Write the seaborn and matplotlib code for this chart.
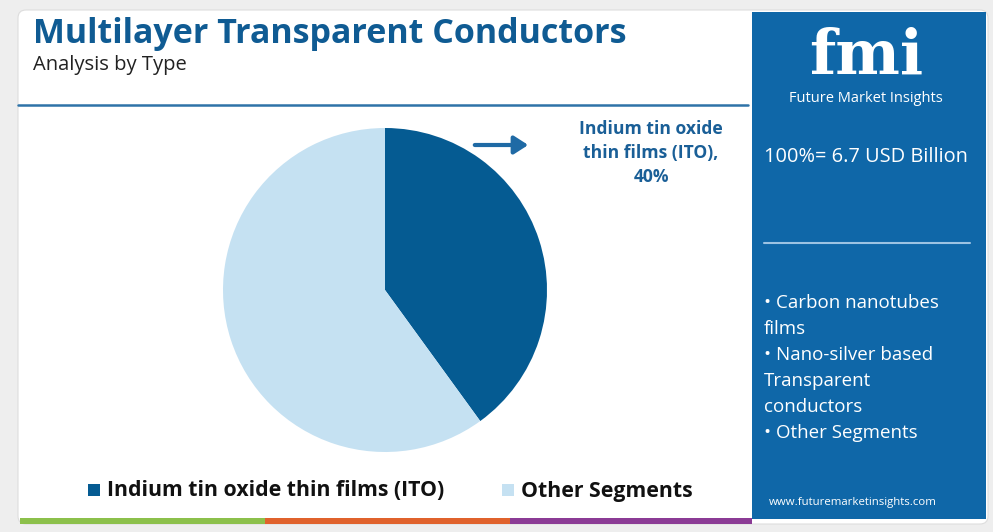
import matplotlib
matplotlib.use('Agg')
import matplotlib.pyplot as plt
from matplotlib.patches import FancyBboxPatch, Rectangle
import seaborn as sns

TITLE = 'Multilayer Transparent Conductors'
SUBTITLE = 'Analysis by Type'
segments = ['Indium tin oxide thin films (ITO)', 'Other Segments']
shares = [40, 60]
market_size = '100%= 6.7 USD Billion'
other_types = ['Carbon nanotubes\nfilms', 'Nano-silver based\nTransparent\nconductors', 'Other Segments']

DARK = '#055b92'
LIGHT = '#c5e1f2'
PANEL = '#0f67a8'
TITLE_COLOR = '#0f5b93'
W, H = 993, 532

sns.set_theme(style='white')
plt.rcParams['font.family'] = ['Open Sans', 'DejaVu Sans']

fig = plt.figure(figsize=(W / 100, H / 100), dpi=100)
fig.patch.set_facecolor('#eeeeee')

# background canvas in pixel coordinates
bg = fig.add_axes([0, 0, 1, 1])
bg.set_xlim(0, W)
bg.set_ylim(H, 0)
bg.axis('off')

bg.add_patch(FancyBboxPatch((18, 10), 970, 514, boxstyle='round,pad=0,rounding_size=8',
                            fc='white', ec='#dddddd', lw=0.8))
bg.add_patch(Rectangle((752, 12), 234, 507, fc=PANEL, ec='none'))
for x0, x1, c in [(20, 265, '#8cc04b'), (265, 510, '#e0622c'), (510, 752, '#8b3b95')]:
    bg.add_patch(Rectangle((x0, 518), x1 - x0, 6, fc=c, ec='none'))

bg.plot([18, 748], [105, 105], color='#2e73a8', lw=1.8)

bg.text(33, 34, TITLE, fontsize=24.5, fontweight='bold', color=TITLE_COLOR, va='center', ha='left')
bg.text(33, 65, SUBTITLE, fontsize=14.5, color='#222222', va='center', ha='left')

# annotation for the highlighted slice
bg.annotate('', xy=(531, 145), xytext=(472, 145),
            arrowprops=dict(arrowstyle='-|>,head_length=0.7,head_width=0.45', color='#1f6aa5', lw=3))
bg.text(651, 153, f'{segments[0].replace(" thin", chr(10) + "thin")},\n{shares[0]}%',
        fontsize=12.6, fontweight='bold', color='#1a5f97', ha='center', va='center', linespacing=1.4)

# legend
for (x, c, label) in [(88, DARK, segments[0]), (502, LIGHT, segments[1])]:
    bg.add_patch(Rectangle((x, 484), 12, 12, fc=c, ec='none'))
    bg.text(x + 19, 491, label, fontsize=15.3, fontweight='bold', color='#111111', va='center', ha='left')

# right panel
bg.text(866, 74, 'fmi', fontsize=44, fontweight='bold', family='DejaVu Serif', color='white',
        ha='center', va='baseline')
bg.text(866, 99, 'Future Market Insights', fontsize=10.5, color='white', ha='center', va='center')
bg.text(866, 157, market_size, fontsize=14.4, color='white', ha='center', va='center')
bg.plot([764, 970], [243, 243], color='#9cc3e3', lw=1.5)
bg.text(764, 294, '\n'.join('\u2022 ' + t for t in other_types), fontsize=13.5, color='white',
        ha='left', va='top', linespacing=1.57)
bg.text(853, 503, 'www.futuremarketinsights.com', fontsize=8.2, color='white', ha='center', va='center')

# pie
ax = fig.add_axes([223 / W, 1 - 452 / H, 324 / W, 324 / H])
ax.pie(shares, colors=[DARK, LIGHT], startangle=90, counterclock=False,
       wedgeprops=dict(linewidth=0))
ax.set_xlim(-1, 1)
ax.set_ylim(-1, 1)
ax.set_aspect('equal')

fig.savefig('out.png', dpi=100, facecolor=fig.get_facecolor())
